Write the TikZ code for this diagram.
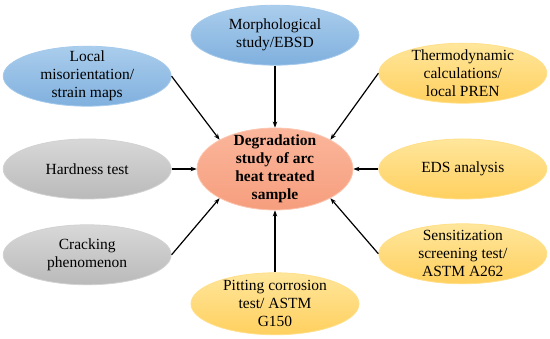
\documentclass[tikz,border=0pt]{standalone}
\usepackage{fontspec}
\setmainfont{Liberation Serif}
\newfontfamily\tnr{Liberation Serif}
\usepackage{tikz}
\usetikzlibrary{arrows.meta, positioning, shapes.geometric}
\definecolor{blue1}{RGB}{170,205,236}
\definecolor{blue2}{RGB}{128,176,222}
\definecolor{gray1}{RGB}{216,216,216}
\definecolor{gray2}{RGB}{186,186,186}
\definecolor{yel1}{RGB}{255,230,155}
\definecolor{yel2}{RGB}{255,208,95}
\definecolor{sal1}{RGB}{251,182,155}
\definecolor{sal2}{RGB}{246,158,126}

\begin{document}
\begin{tikzpicture}[
  node distance=25pt,
  box/.style={ellipse, draw, line width=0.8pt, inner xsep=0pt, inner ysep=-6pt,
              minimum width=168pt, minimum height=60pt, align=center,
              font=\tnr\fontsize{15.5}{18}\selectfont},
  bluebox/.style={box, top color=blue1, bottom color=blue2, draw=blue1!90!blue2},
  graybox/.style={box, top color=gray1, bottom color=gray2, draw=gray1!80!gray2},
  yelbox/.style={box, top color=yel1, bottom color=yel2, draw=yel1!70!yel2},
  key/.style={box, top color=sal1, bottom color=sal2, draw=sal1!80!white,
              minimum width=156pt, minimum height=82pt, inner ysep=-7pt,
              font=\tnr\fontsize{15.5}{18}\selectfont\bfseries},
  arr/.style={-{Stealth[length=6pt,width=4.5pt]}, line width=1.2pt},
]
\useasboundingbox (-275pt,-170pt) rectangle (275pt,169pt);

\node[key] (deg) at (0,0) {Degradation\\study of arc\\heat treated\\sample};
\node[graybox, left=of deg] (hard) {Hardness test};
\node[yelbox, right=of deg] (eds) {EDS analysis};
\node[bluebox, above=32pt of hard] (local) {Local\\misorientation/\\strain maps};
\node[graybox, below=25pt of hard] (crack) {Cracking\\phenomenon};
\node[yelbox, above=35pt of eds] (thermo) {Thermodynamic\\calculations/\\local PREN};
\node[yelbox, below=24pt of eds] (sens) {Sensitization\\screening test/\\ASTM A262};
\node[bluebox, above=62pt of deg] (morph) {Morphological\\study/EBSD};
\node[yelbox, below=62pt of deg, minimum height=62pt] (pit) {Pitting corrosion\\test/ ASTM\\G150};

\draw[arr] (local.east)  -- (deg.north west);
\draw[arr] (morph)       -- (deg);
\draw[arr] (thermo.west) -- (deg.north east);
\draw[arr] (hard)        -- (deg);
\draw[arr] (eds)         -- (deg);
\draw[arr] (crack.east)  -- (deg.south west);
\draw[arr] (sens.west)   -- (deg.south east);
\draw[arr] (pit)         -- (deg);

\end{tikzpicture}
\end{document}
